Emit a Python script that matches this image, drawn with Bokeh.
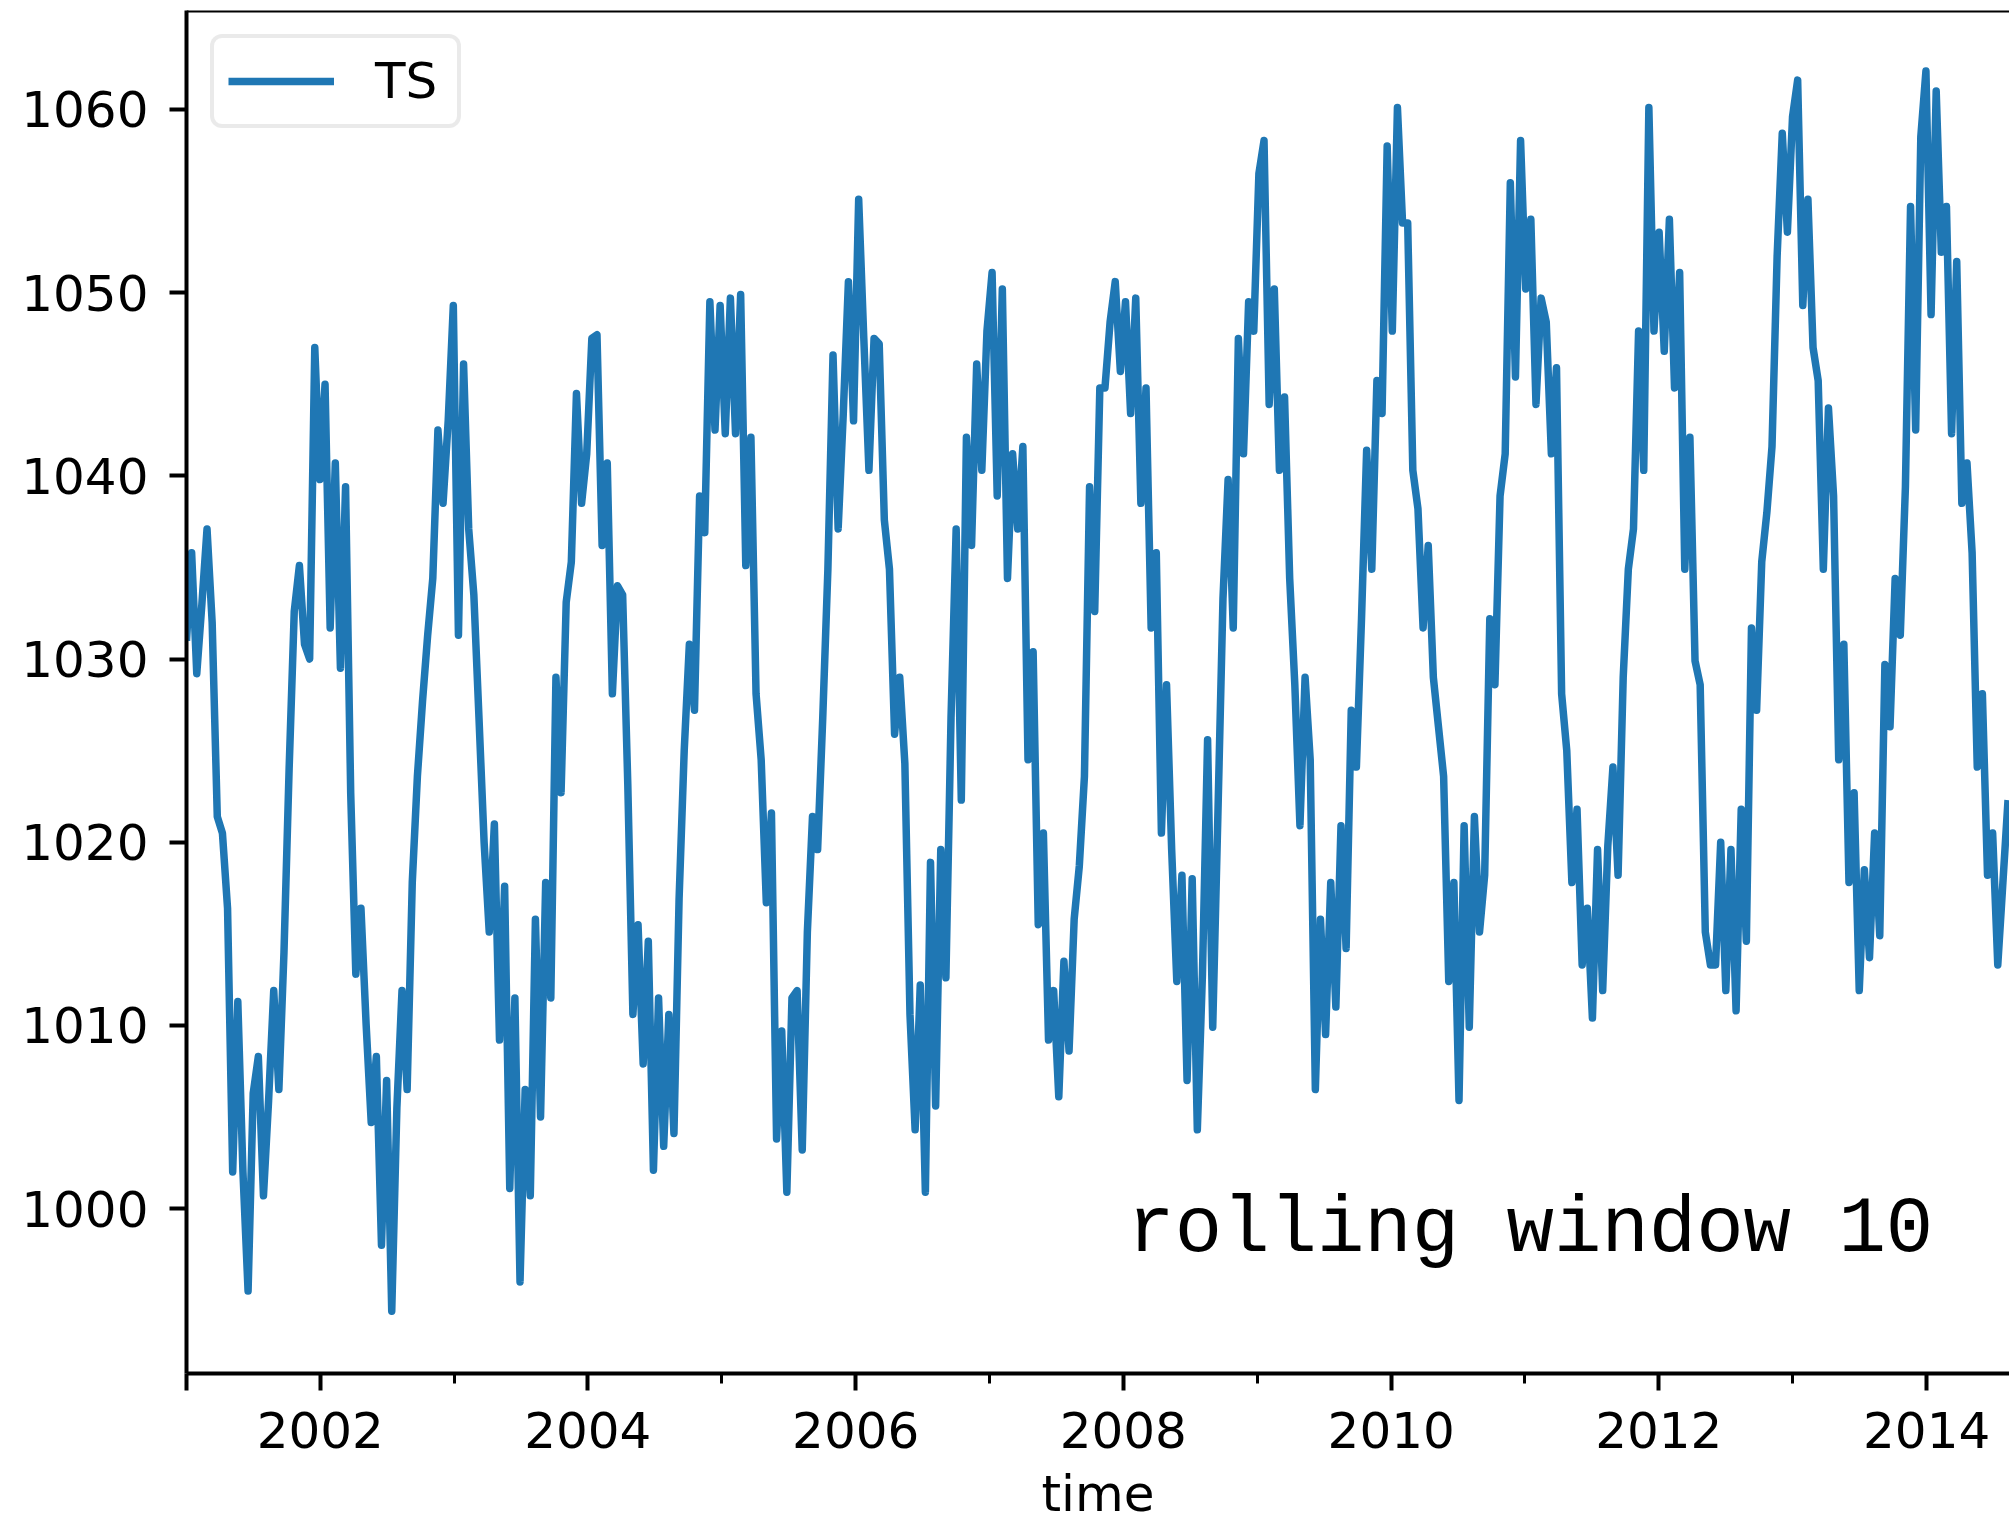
import pandas as pd
from bokeh.plotting import figure
from bokeh.models import FixedTicker, DatetimeTickFormatter, Span, Label, Legend
from bokeh.embed import file_html
from bokeh.resources import INLINE

# Sea-level pressure series (rolling mean, window 10), sampled every 14 days
start_date = "2001-01-01"
step = "14D"
ts_values = [
    # 2001 - 2003.3
    1031.0, 1035.8, 1029.2, 1033.0, 1037.1, 1032.0, 1021.4, 1020.5, 1016.4, 1002.0,
    1011.3, 1002.0, 995.5, 1006.3, 1008.3, 1000.7, 1005.9, 1011.9, 1006.5, 1014.0,
    1024.0, 1032.6, 1035.1, 1030.8, 1030.0, 1047.0, 1039.8, 1045.0, 1031.7, 1040.7,
    1029.5, 1039.4, 1022.7, 1012.8, 1016.4, 1010.1, 1004.7, 1008.3, 998.0, 1007.0,
    994.4, 1005.5, 1011.9, 1006.5, 1017.8, 1023.6, 1027.7, 1031.3, 1034.4, 1042.5,
    1038.5, 1043.0, 1049.3, 1031.3, 1046.1, 1037.1, 1033.5, 1026.8, 1020.0, 1015.1,
    # 2003.3 - 2005.55
    1021.0, 1009.2, 1017.6, 1001.1, 1011.5, 996.0, 1006.5, 1000.7, 1015.8, 1005.0,
    1017.8, 1011.5, 1029.0, 1022.7, 1033.1, 1035.3, 1044.5, 1038.5, 1041.2, 1047.5,
    1047.7, 1036.2, 1040.7, 1028.1, 1034.0, 1033.5, 1023.2, 1010.6, 1015.5, 1007.9,
    1014.6, 1002.1, 1011.5, 1003.4, 1010.6, 1004.1, 1016.9, 1025.0, 1030.8, 1027.2,
    1038.9, 1036.9, 1049.5, 1042.5, 1049.3, 1042.3, 1049.7, 1042.3, 1049.9, 1035.1,
    1042.1, 1028.1, 1024.5, 1016.7, 1021.6, 1003.8, 1009.7, 1000.9, 1011.5,
    # 2005.55 - 2007.83
    1011.9, 1003.2, 1015.1, 1021.4, 1019.6, 1026.8, 1034.9, 1046.6, 1037.1, 1043.4,
    1050.6, 1043.0, 1055.1, 1047.5, 1040.3, 1047.5, 1047.2, 1037.6, 1034.9, 1025.9,
    1029.0, 1024.3, 1010.6, 1004.3, 1012.2, 1000.9, 1018.9, 1005.6, 1019.6, 1012.6,
    1026.8, 1037.1, 1022.3, 1042.1, 1036.2, 1046.1, 1040.3, 1047.9, 1051.1, 1038.9,
    1050.2, 1034.4, 1041.2, 1037.1, 1041.6, 1024.5, 1030.4, 1015.5, 1020.5, 1009.2,
    1011.9, 1006.1, 1013.5, 1008.6, 1015.8, 1018.7, 1023.6, 1039.4, 1032.6, 1044.8,
    # 2007.83 - 2010.1
    1044.8, 1048.4, 1050.6, 1045.7, 1049.5, 1043.4, 1049.7, 1038.5, 1044.8, 1031.7,
    1035.8, 1020.5, 1028.6, 1019.6, 1012.4, 1018.2, 1007.0, 1018.0, 1004.3, 1012.8,
    1025.6, 1009.9, 1021.4, 1033.3, 1039.8, 1031.7, 1047.5, 1041.2, 1049.5, 1047.9,
    1056.5, 1058.3, 1043.9, 1050.2, 1040.3, 1044.3, 1034.4, 1028.6, 1020.9, 1029.0,
    1024.5, 1006.5, 1015.8, 1009.5, 1017.8, 1011.0, 1020.9, 1014.2, 1027.2, 1024.1,
    1032.2, 1041.4, 1034.9, 1045.2, 1043.4, 1058.0, 1047.9, 1060.1, 1053.8,
    # 2010.1 - 2012.4
    1053.8, 1040.3, 1038.2, 1031.7, 1036.2, 1029.0, 1026.3, 1023.6, 1012.4, 1017.8,
    1005.9, 1020.9, 1009.9, 1021.4, 1015.1, 1018.2, 1032.2, 1028.6, 1038.9, 1041.2,
    1056.0, 1045.4, 1058.3, 1050.2, 1054.0, 1043.9, 1049.7, 1048.4, 1041.2, 1045.9,
    1028.1, 1025.0, 1017.8, 1021.8, 1013.3, 1016.4, 1010.4, 1019.6, 1011.9, 1019.8,
    1024.1, 1018.2, 1029.0, 1034.9, 1037.1, 1047.9, 1040.3, 1060.1, 1047.9, 1053.3,
    1046.8, 1054.0, 1044.8, 1051.1, 1034.9, 1042.1, 1029.9, 1028.6, 1015.1, 1013.3,
    # 2012.4 - 2014.6
    1013.3, 1020.0, 1011.9, 1019.6, 1010.8, 1021.8, 1014.6, 1031.7, 1027.2, 1035.3,
    1038.0, 1041.6, 1052.0, 1058.7, 1053.3, 1059.6, 1061.6, 1049.3, 1055.1, 1047.0,
    1045.2, 1034.9, 1043.7, 1038.9, 1024.5, 1030.8, 1017.8, 1022.7, 1011.9, 1018.5,
    1013.7, 1020.5, 1014.9, 1029.7, 1026.3, 1034.4, 1031.3, 1039.4, 1054.7, 1042.5,
    1058.5, 1062.1, 1048.8, 1061.0, 1052.2, 1054.7, 1042.3, 1051.7, 1038.5, 1040.7,
    1035.8, 1024.1, 1028.1, 1018.2, 1020.5, 1013.3, 1017.8, 1022.3,
]
time = pd.date_range(start_date, periods=len(ts_values), freq=step)

major_years = [2001, 2002, 2004, 2006, 2008, 2010, 2012, 2014]
minor_years = [2003, 2005, 2007, 2009, 2011, 2013]
y_ticks = [1000, 1010, 1020, 1030, 1040, 1050, 1060]


def year_ms(y):
    return float(pd.Timestamp(f"{y}-01-01").value // 10**6)


FONT = "DejaVu Sans"
Y_LOW, Y_HIGH = 991.0, 1065.4

p = figure(
    width=2009, height=1525,
    x_axis_type="datetime",
    x_range=(time[0], time[-1] + pd.Timedelta(days=4)),
    y_range=(Y_LOW, Y_HIGH),
    output_backend="svg", toolbar_location=None,
    min_border_left=186, min_border_right=0,
    min_border_top=10, min_border_bottom=152,
)
p.outline_line_color = None
p.grid.visible = False
p.background_fill_color = "white"
p.border_fill_color = "white"

line = p.line(time, ts_values, line_width=7.5, line_color="#1f77b4", line_join="round")

# axes
xa = p.xaxis[0]
xa.ticker = FixedTicker(ticks=[year_ms(y) for y in major_years],
                        minor_ticks=[year_ms(y) for y in minor_years])
xa.formatter = DatetimeTickFormatter(years="%Y", months="%Y", days="%Y", hours="%Y",
                                     minutes="%Y", seconds="%Y", milliseconds="%Y")
xa.major_label_overrides = {year_ms(2001): ""}
xa.axis_label = "time"

ya = p.yaxis[0]
ya.ticker = FixedTicker(ticks=y_ticks)

for ax in (xa, ya):
    ax.axis_line_width = 4
    ax.axis_line_color = "black"
    ax.major_tick_line_width = 4
    ax.major_tick_out = 17
    ax.major_tick_in = 0
    ax.minor_tick_line_width = 3
    ax.minor_tick_out = 10
    ax.minor_tick_in = 0
    ax.major_label_text_font = FONT
    ax.major_label_text_font_size = "50px"
    ax.major_label_text_color = "black"
    ax.axis_label_text_font = FONT
    ax.axis_label_text_font_size = "50px"
    ax.axis_label_text_font_style = "normal"
    ax.axis_label_text_color = "black"
ya.minor_tick_line_color = None
ya.major_label_standoff = 21
xa.major_label_standoff = 21
xa.axis_label_standoff = 14

# top spine
p.add_layout(Span(location=Y_HIGH, dimension="width", line_color="black", line_width=4))

# legend
legend = Legend(items=[("TS", [line])], location="top_left")
legend.margin = 24
legend.padding = 14
legend.spacing = 0
legend.glyph_width = 106
legend.glyph_height = 50
legend.label_standoff = 41
legend.label_width = 68
legend.label_text_font = FONT
legend.label_text_font_size = "50px"
legend.label_text_color = "black"
legend.border_line_color = "#d5d5d5"
legend.border_line_width = 4
legend.background_fill_color = "white"
legend.background_fill_alpha = 0.8
if "border_radius" in Legend.properties():
    legend.border_radius = 12
p.add_layout(legend)

p.add_layout(Label(x=float(pd.Timestamp("2008-01-12").value // 10**6), y=998.85,
                   text="rolling window 10", text_font="Liberation Mono",
                   text_font_size="79px", text_baseline="alphabetic",
                   text_align="left", text_color="black"))

open("out.html", "w").write(file_html(p, INLINE))
